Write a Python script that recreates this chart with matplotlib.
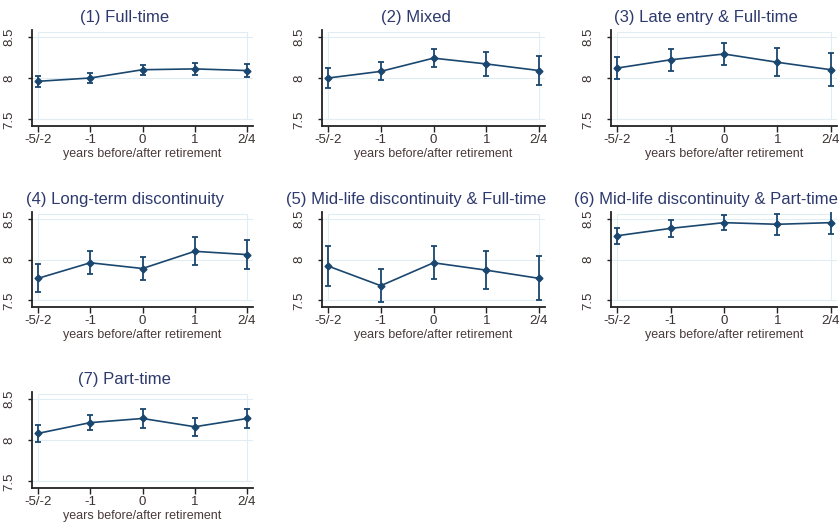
import matplotlib
matplotlib.use("Agg")
import matplotlib.pyplot as plt
from matplotlib.patches import Rectangle

plt.rcParams["font.family"] = ["Liberation Sans", "DejaVu Sans"]

# data
x_labels = ["-5/-2", "-1", "0", "1", "2/4"]
titles = [
    "(1) Full-time",
    "(2) Mixed",
    "(3) Late entry & Full-time",
    "(4) Long-term discontinuity",
    "(5) Mid-life discontinuity & Full-time",
    "(6) Mid-life discontinuity & Part-time",
    "(7) Part-time",
]
means = [
    [7.96, 8.00, 8.10, 8.11, 8.09],
    [8.00, 8.08, 8.24, 8.17, 8.09],
    [8.12, 8.22, 8.29, 8.19, 8.10],
    [7.77, 7.96, 7.89, 8.10, 8.06],
    [7.92, 7.68, 7.96, 7.87, 7.77],
    [8.29, 8.38, 8.45, 8.43, 8.45],
    [8.08, 8.21, 8.26, 8.16, 8.26],
]
ci_half = [
    [0.07, 0.06, 0.06, 0.07, 0.08],
    [0.12, 0.11, 0.11, 0.15, 0.18],
    [0.13, 0.13, 0.13, 0.17, 0.20],
    [0.17, 0.14, 0.14, 0.17, 0.18],
    [0.24, 0.20, 0.20, 0.23, 0.27],
    [0.10, 0.10, 0.09, 0.13, 0.14],
    [0.10, 0.09, 0.11, 0.11, 0.12],
]
y_ticks = [7.5, 8, 8.5]
y_ticklabels = ["7.5", "8", "8.5"]

W, H = 840, 523
# axes boxes in pixels: left, top, right, bottom
col_px = [(32, 253), (322, 545), (611, 837)]
row_px = [(30, 126), (212, 307), (392, 488)]

navy = "#1a476f"
title_col = "#2e3a6e"
tick_col = "#3a3030"
grid_col = "#e2edf3"

fig = plt.figure(figsize=(W / 100, H / 100), dpi=100)

for i, title in enumerate(titles):
    r, c = divmod(i, 3)
    l, rr = col_px[c]
    t, b = row_px[r]
    ax = fig.add_axes([l / W, 1 - b / H, (rr - l) / W, (b - t) / H])
    xs = list(range(len(x_labels)))

    # faint stata-like plot region and grid
    ax.add_patch(Rectangle((0, 7.5), 4, 1.06, fill=False, ec=grid_col, lw=0.8, zorder=0))
    for yv in y_ticks:
        ax.axhline(yv, color=grid_col, lw=0.8, zorder=0)

    ax.errorbar(xs, means[i], yerr=ci_half[i], fmt="none", ecolor=navy,
                elinewidth=1.3, capsize=2.5, capthick=1.3, zorder=2)
    ax.plot(xs, means[i], color=navy, lw=1.2, marker="D", ms=3.5, zorder=3)

    ax.set_xlim(-0.115, 4.115)
    ax.set_ylim(7.42, 8.58)
    ax.set_xticks(xs)
    ax.set_xticklabels(x_labels)
    ax.set_yticks(y_ticks)
    ax.set_yticklabels(y_ticklabels, rotation=90, va="center")
    ax.tick_params(axis="both", colors="#222222", labelcolor=tick_col,
                   labelsize=9.5, width=1.0)
    ax.tick_params(axis="x", length=4, pad=2)
    ax.tick_params(axis="y", length=3, pad=9)
    for s in ["top", "right"]:
        ax.spines[s].set_visible(False)
    for s in ["left", "bottom"]:
        ax.spines[s].set_linewidth(1.3)
        ax.spines[s].set_color("#222222")
    ax.set_xlabel("years before/after retirement", fontsize=9, color="#4a3a3a", labelpad=1)
    ax.set_title(title, fontsize=12, color=title_col, x=0.42, pad=6)

fig.savefig("out.png", dpi=100, facecolor="white")
